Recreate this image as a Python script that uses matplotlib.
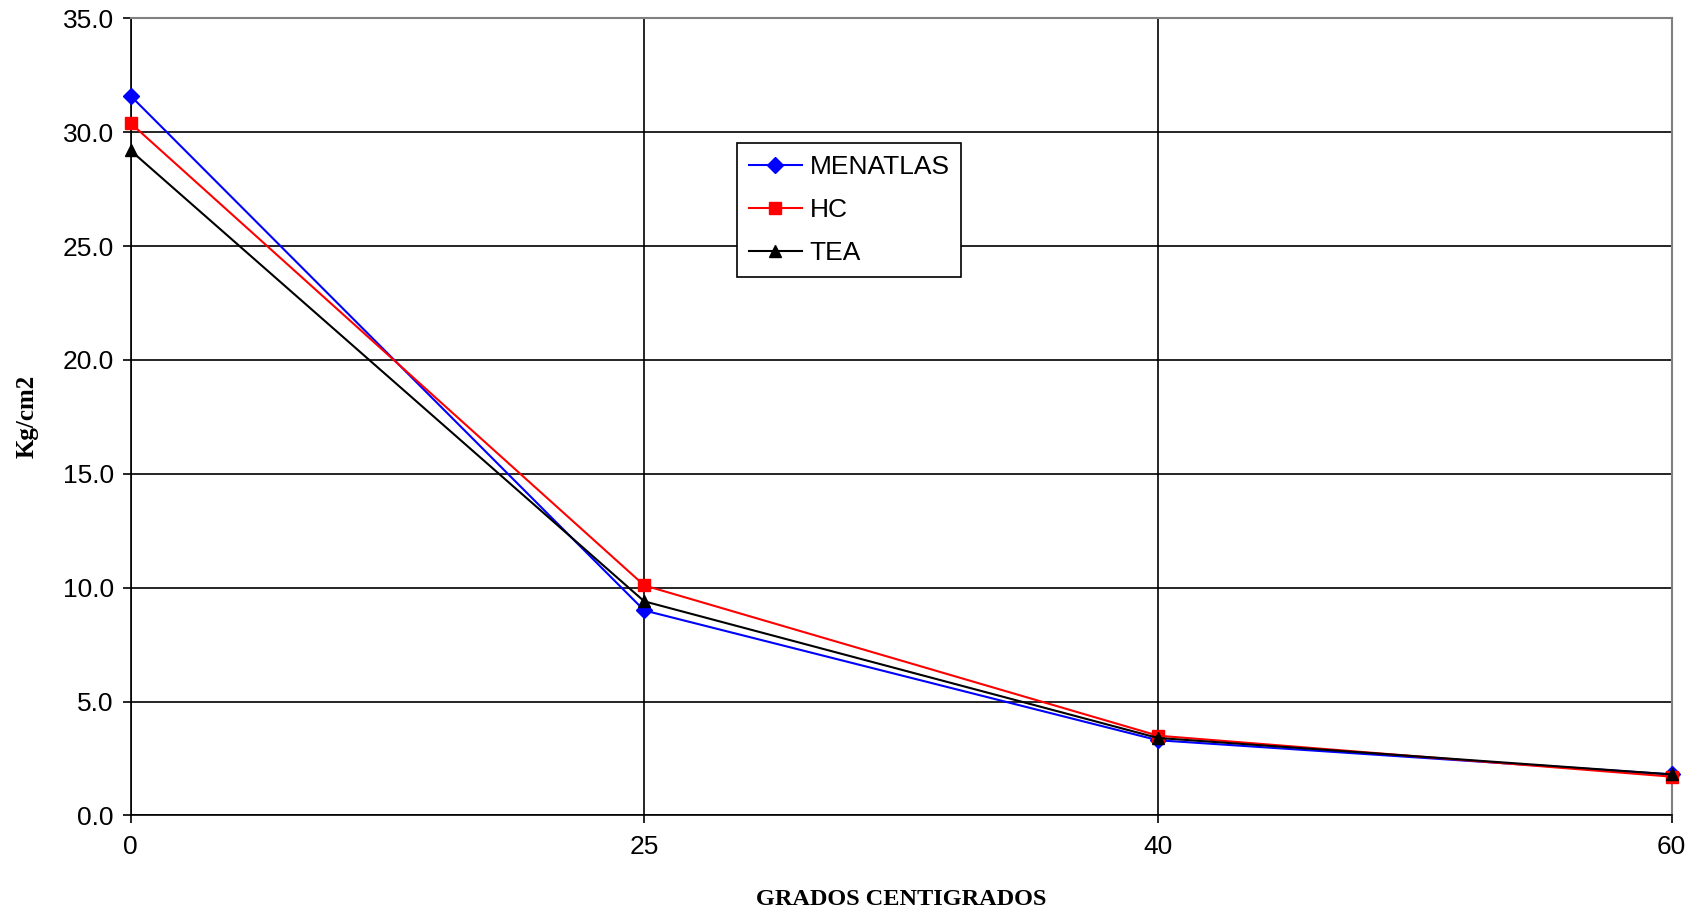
import matplotlib.pyplot as plt

# temperaturas (categorias) y presion en Kg/cm2
grados = ['0', '25', '40', '60']
menatlas = [31.6, 9.0, 3.3, 1.8]
hc = [30.4, 10.1, 3.5, 1.7]
tea = [29.2, 9.4, 3.4, 1.8]

fig = plt.figure(figsize=(16.93, 9.17), dpi=100)
ax = fig.add_axes([0.0771, 0.1108, 0.9103, 0.8692])

x = range(len(grados))
ax.plot(x, menatlas, color='blue', marker='D', markersize=8, lw=1.5, label='MENATLAS',
        zorder=3, clip_on=False)
ax.plot(x, hc, color='red', marker='s', markersize=8, lw=1.5, label='HC',
        zorder=3, clip_on=False)
ax.plot(x, tea, color='black', marker='^', markersize=9, lw=1.5, label='TEA',
        zorder=3, clip_on=False)

ax.set_xlim(0, 3)
ax.set_ylim(0, 35)
ax.set_xticks(list(x))
ax.set_xticklabels(grados)
ax.set_yticks([i * 5 for i in range(8)])
ax.set_yticklabels(['%.1f' % (i * 5) for i in range(8)])
ax.tick_params(labelsize=19, direction='out', length=6, width=1.2)
ax.tick_params(axis='x', pad=8)
ax.tick_params(axis='y', pad=6)
for lab in ax.get_xticklabels() + ax.get_yticklabels():
    lab.set_family('Liberation Sans')

ax.grid(True, color='black', lw=1.2)
ax.set_axisbelow(True)
for s in ['top', 'right']:
    ax.spines[s].set_color('#808080')
    ax.spines[s].set_linewidth(1.5)
for s in ['left', 'bottom']:
    ax.spines[s].set_color('black')
    ax.spines[s].set_linewidth(1.2)

ax.set_xlabel('GRADOS CENTIGRADOS', fontfamily='Liberation Serif', fontweight='bold',
              fontsize=17.5, labelpad=22)
ax.set_ylabel('Kg/cm2', fontfamily='Liberation Serif', fontweight='bold', fontsize=18,
              labelpad=17)

leg = ax.legend(loc='upper left', bbox_to_anchor=(0.3935, 0.8437), fancybox=False,
                edgecolor='black', framealpha=1, prop={'family': 'Liberation Sans', 'size': 19},
                handlelength=2.0, borderpad=0.45, labelspacing=0.72, handletextpad=0.3,
                borderaxespad=0)
leg.get_frame().set_linewidth(1.2)

fig.savefig('out.png', dpi=100)
